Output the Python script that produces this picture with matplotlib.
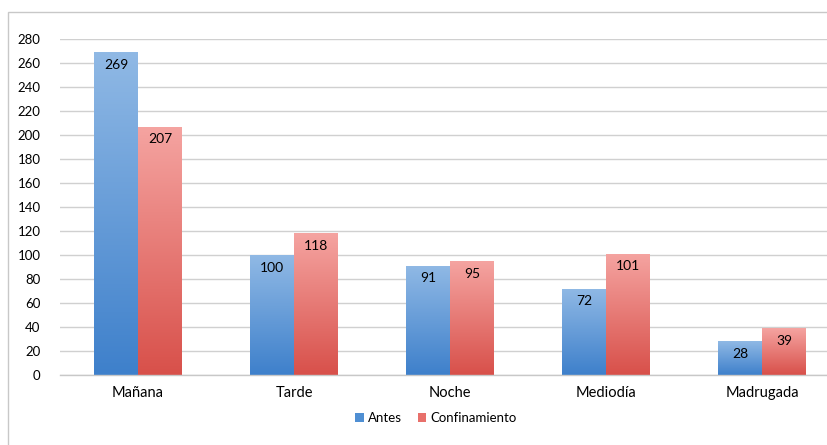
import numpy as np
import matplotlib
matplotlib.use("Agg")
import matplotlib.pyplot as plt
from matplotlib.colors import LinearSegmentedColormap
from matplotlib.patches import Rectangle, Patch

categories = ["Mañana", "Tarde", "Noche", "Mediodía", "Madrugada"]
antes = [269, 100, 91, 72, 28]
confinamiento = [207, 118, 95, 101, 39]
series_names = ["Antes", "Confinamiento"]

plt.rcParams["font.family"] = ["Lato", "DejaVu Sans"]

fig = plt.figure(figsize=(8.28, 4.45), dpi=100)
W, H = 828, 445

# outer chart border (cropped on the right and bottom)
fig.patches.append(Rectangle((8 / W, -0.1), 1.2, (445 - 12) / H + 0.1,
                             transform=fig.transFigure, fill=False,
                             edgecolor="#c8c8c8", linewidth=1.0))

ax = fig.add_axes([60 / W, 70 / H, 780 / W, 336 / H])

x = np.arange(len(categories))
w = 0.282

blue_cmap = LinearSegmentedColormap.from_list("b", ["#3e80cb", "#90b9e5"])
red_cmap = LinearSegmentedColormap.from_list("r", ["#d8504a", "#f5a4a1"])

bars_a = ax.bar(x - w / 2, antes, w, color="#4f8fd3", label=series_names[0], zorder=2)
bars_c = ax.bar(x + w / 2, confinamiento, w, color="#e8706b", label=series_names[1], zorder=2)

grad = np.linspace(0, 1, 256).reshape(-1, 1)
for bars, cmap in [(bars_a, blue_cmap), (bars_c, red_cmap)]:
    for b in bars:
        x0, y0 = b.get_x(), b.get_y()
        bw, bh = b.get_width(), b.get_height()
        im = ax.imshow(grad, cmap=cmap, origin="lower", aspect="auto",
                       extent=[x0, x0 + bw, y0, y0 + bh], zorder=2.5)
        im.set_clip_path(b)
        b.set_alpha(0)

for bars, vals in [(bars_a, antes), (bars_c, confinamiento)]:
    for b, v in zip(bars, vals):
        ax.annotate(str(v), (b.get_x() + b.get_width() / 2, v),
                    xytext=(0, -9), textcoords="offset points",
                    ha="center", va="center", fontsize=10, color="black", zorder=4)

ax.set_xlim(-0.5, len(categories) - 0.5)
ax.set_ylim(0, 280)
ax.set_yticks(range(0, 281, 20))
ax.set_xticks(x)
ax.set_xticklabels(categories, fontsize=10.5)
ax.tick_params(axis="y", length=0, labelsize=9.5, pad=14)
ax.tick_params(axis="x", length=0, pad=8)
ax.grid(axis="y", color="#d0d0d0", linewidth=1.0, zorder=0)
ax.set_axisbelow(True)
for s in ["top", "right", "left"]:
    ax.spines[s].set_visible(False)
ax.spines["bottom"].set_color("#c8c8c8")
ax.spines["bottom"].set_linewidth(1.0)

handles = [Patch(facecolor="#4f8fd3"), Patch(facecolor="#e8706b")]
fig.legend(handles, series_names, loc="center", bbox_to_anchor=(436 / W, 1 - 418 / H),
           ncol=2, frameon=False, fontsize=9.5, handlelength=0.65, handleheight=0.65,
           handletextpad=0.3, columnspacing=1.2)

fig.savefig("out.png", dpi=100)
